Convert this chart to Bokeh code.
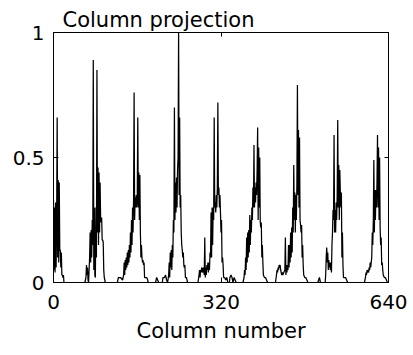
from bokeh.plotting import figure
from bokeh.models import Range1d, LinearAxis, FixedTicker, CustomLabelingPolicy
from bokeh.embed import file_html
from bokeh.resources import INLINE

# ---- data (column index, normalised projection) ----
g1_cols = [0, 1, 2, 3, 4, 5, 6, 7, 8, 9, 10, 11, 12, 13, 14, 15, 16, 17, 18, 19, 20, 21]
g1_vals = [0.33, 0.05, 0.30, 0.04, 0.32, 0.06, 0.25, 0.66, 0.10, 0.41, 0.08, 0.40, 0.13, 0.13, 0.06, 0.12, 0.03, 0.03, 0.02, 0.03, 0.0, 0.0]

g2_cols = [60, 62, 63, 64, 65, 66, 67, 68, 69, 70, 71, 72, 73, 74, 75, 76, 77, 78, 79, 80, 81, 82, 83, 84, 85, 86, 87, 88, 89, 90, 91, 92, 93, 94, 95, 96, 97, 98, 99]
g2_vals = [0.0, 0.02, 0.07, 0.03, 0.06, 0.01, 0.0, 0.05, 0.10, 0.20, 0.08, 0.21, 0.10, 0.25, 0.15, 0.89, 0.05, 0.30, 0.03, 0.02, 0.30, 0.10, 0.85, 0.20, 0.46, 0.15, 0.44, 0.20, 0.40, 0.26, 0.24, 0.26, 0.17, 0.17, 0.16, 0.05, 0.02, 0.01, 0.0]

g3_cols = [122, 124, 128, 132, 134, 135, 136, 137, 138, 139, 140, 141, 142, 143, 144, 145, 146, 147, 148, 149, 150, 151, 152, 153, 154, 155, 156, 157, 158, 159, 160, 161, 162, 163, 164, 165, 166, 167, 168, 169, 170, 171, 172, 173, 174, 176, 178, 180, 181]
g3_vals = [0.0, 0.02, 0.02, 0.01, 0.03, 0.08, 0.03, 0.09, 0.05, 0.10, 0.06, 0.12, 0.07, 0.13, 0.08, 0.15, 0.10, 0.20, 0.12, 0.25, 0.15, 0.30, 0.20, 0.34, 0.76, 0.25, 0.34, 0.30, 0.35, 0.30, 0.33, 0.66, 0.30, 0.44, 0.25, 0.43, 0.20, 0.10, 0.15, 0.10, 0.08, 0.09, 0.07, 0.08, 0.02, 0.02, 0.02, 0.01, 0.0]

g4_cols = [195, 197, 199, 201, 208, 209, 212, 214, 216, 218, 220, 221, 222, 223, 224, 225, 226, 227, 228, 229, 230, 231, 232, 233, 234, 235, 236, 237, 238, 239, 240, 241, 242, 243, 244, 245, 246, 247, 248, 249, 250, 251, 252, 254, 256]
g4_vals = [0.0, 0.02, 0.01, 0.0, 0.0, 0.02, 0.02, 0.03, 0.01, 0.0, 0.03, 0.08, 0.02, 0.12, 0.06, 0.13, 0.05, 0.15, 0.10, 0.25, 0.20, 0.70, 0.25, 0.40, 0.28, 0.42, 0.30, 0.45, 0.50, 1.00, 0.35, 0.66, 0.30, 0.35, 0.20, 0.15, 0.13, 0.10, 0.12, 0.07, 0.06, 0.07, 0.02, 0.02, 0.0]

g5_cols = [276, 278, 279, 280, 281, 282, 283, 284, 285, 286, 287, 288, 289, 290, 291, 292, 293, 294, 295, 296, 297, 298, 299, 300, 301, 302, 303, 304, 305, 306, 307, 308, 309, 310, 311, 312, 313, 314, 315, 316, 317, 318, 319, 320, 321, 322, 323, 324, 325, 327, 329, 331, 333]
g5_vals = [0.0, 0.03, 0.05, 0.02, 0.05, 0.04, 0.06, 0.05, 0.04, 0.06, 0.05, 0.03, 0.18, 0.02, 0.06, 0.03, 0.07, 0.05, 0.08, 0.04, 0.08, 0.05, 0.12, 0.10, 0.28, 0.10, 0.30, 0.15, 0.30, 0.25, 0.66, 0.30, 0.32, 0.28, 0.35, 0.30, 0.38, 0.72, 0.35, 0.38, 0.30, 0.35, 0.28, 0.20, 0.25, 0.08, 0.10, 0.07, 0.02, 0.02, 0.01, 0.02, 0.0]

g6_cols = [336, 337, 339, 341, 343, 345, 347, 349, 362, 364, 365, 366, 367, 368, 369, 370, 371, 372, 373, 374, 375, 376, 377, 378, 379, 380, 381, 382, 383, 384, 385, 386, 387, 388, 389, 390, 391, 392, 393, 394, 395, 396, 397, 398, 399, 400, 401, 403, 405, 407, 409]
g6_vals = [0.0, 0.02, 0.03, 0.02, 0.0, 0.02, 0.01, 0.0, 0.0, 0.02, 0.05, 0.03, 0.10, 0.05, 0.18, 0.08, 0.20, 0.10, 0.21, 0.12, 0.27, 0.15, 0.25, 0.20, 0.30, 0.25, 0.38, 0.30, 0.55, 0.30, 0.38, 0.32, 0.40, 0.35, 0.45, 0.62, 0.25, 0.54, 0.30, 0.50, 0.24, 0.22, 0.24, 0.10, 0.15, 0.08, 0.03, 0.02, 0.02, 0.01, 0.0]

g7_cols = [424, 426, 427, 428, 429, 430, 431, 432, 433, 434, 435, 436, 437, 438, 440, 442, 443, 444, 445, 446, 447, 448, 449, 450, 451, 452, 453, 454, 455, 456, 457, 458, 459, 460, 461, 462, 463, 464, 465, 466, 467, 468, 469, 470, 471, 472, 473, 474, 475, 476, 477, 478, 480, 482, 484, 486]
g7_vals = [0.0, 0.03, 0.05, 0.04, 0.06, 0.05, 0.07, 0.06, 0.07, 0.05, 0.04, 0.03, 0.04, 0.03, 0.04, 0.05, 0.18, 0.03, 0.07, 0.04, 0.07, 0.05, 0.15, 0.06, 0.15, 0.08, 0.20, 0.10, 0.22, 0.12, 0.30, 0.20, 0.47, 0.25, 0.36, 0.20, 0.35, 0.25, 0.40, 0.79, 0.35, 0.61, 0.30, 0.58, 0.25, 0.23, 0.20, 0.23, 0.10, 0.15, 0.07, 0.03, 0.02, 0.02, 0.01, 0.0]

g8_cols = [505, 508, 510, 519, 520, 521, 522, 523, 524, 525, 526, 527, 528, 529, 530, 531, 532, 533, 534, 535, 536, 537, 538, 539, 540, 541, 542, 543, 544, 545, 546, 547, 548, 549, 550, 551, 552, 553, 554, 556, 558, 560, 562]
g8_vals = [0.0, 0.02, 0.0, 0.0, 0.03, 0.10, 0.14, 0.08, 0.12, 0.05, 0.09, 0.06, 0.08, 0.05, 0.08, 0.04, 0.15, 0.20, 0.29, 0.25, 0.59, 0.20, 0.29, 0.20, 0.32, 0.25, 0.35, 0.65, 0.30, 0.47, 0.25, 0.45, 0.36, 0.30, 0.36, 0.10, 0.20, 0.07, 0.02, 0.02, 0.02, 0.01, 0.0]

g9_cols = [594, 596, 597, 598, 599, 600, 601, 602, 603, 604, 605, 606, 607, 608, 609, 610, 611, 612, 613, 614, 615, 616, 617, 618, 619, 620, 621, 622, 623, 624, 625, 626, 627, 628, 629, 630, 632, 634, 636, 638, 640]
g9_vals = [0.0, 0.02, 0.04, 0.03, 0.05, 0.04, 0.05, 0.04, 0.06, 0.05, 0.08, 0.06, 0.08, 0.10, 0.20, 0.15, 0.25, 0.49, 0.20, 0.37, 0.25, 0.37, 0.30, 0.40, 0.59, 0.30, 0.54, 0.25, 0.50, 0.22, 0.15, 0.18, 0.07, 0.08, 0.05, 0.03, 0.02, 0.02, 0.01, 0.0, 0.0]

x_ticks = [0, 320, 640]
y_ticks = [0, 0.5, 1]
y_tick_labels = {0: "0", 0.5: "0.5", 1: "1"}

columns = (g1_cols + g2_cols + g3_cols + g4_cols + g5_cols + g6_cols + g7_cols + g8_cols + g9_cols)
projection = (g1_vals + g2_vals + g3_vals + g4_vals + g5_vals + g6_vals + g7_vals + g8_vals + g9_vals)

FONT = "DejaVu Sans"
FS = "20px"
FS_BIG = "21px"

p = figure(width=413, height=355, x_range=Range1d(0, 640), y_range=Range1d(0, 1),
           output_backend="svg", toolbar_location=None,
           min_border_left=53, min_border_right=25, min_border_top=32, min_border_bottom=73,
           title="Column projection")

p.line(columns, projection, line_color="black", line_width=1.25)

p.grid.visible = False
p.background_fill_color = "white"
p.border_fill_color = "white"
p.outline_line_color = "black"
p.outline_line_width = 1

p.title.text_font = FONT
p.title.text_font_size = FS_BIG
p.title.text_font_style = "normal"
p.title.text_color = "black"
p.title.align = "left"
p.title.offset = 9
p.title.standoff = 2

for ax in (p.xaxis[0], p.yaxis[0]):
    ax.major_tick_in = 5
    ax.major_tick_out = 0
    ax.minor_tick_line_color = None
    ax.major_label_text_font = FONT
    ax.major_label_text_font_size = FS
    ax.major_label_text_color = "black"
    ax.axis_line_color = "black"
    ax.major_tick_line_color = "black"

p.xaxis[0].ticker = FixedTicker(ticks=x_ticks)
p.yaxis[0].ticker = FixedTicker(ticks=y_ticks)
p.yaxis[0].major_label_overrides = y_tick_labels
p.xaxis[0].major_label_standoff = 12
p.yaxis[0].major_label_standoff = 9
p.xaxis[0].axis_label = "Column number"
p.xaxis[0].axis_label_text_font = FONT
p.xaxis[0].axis_label_text_font_size = FS_BIG
p.xaxis[0].axis_label_text_font_style = "normal"
p.xaxis[0].axis_label_text_color = "black"
p.xaxis[0].axis_label_standoff = 7

no_labels = "return []"
top_ax = LinearAxis(ticker=FixedTicker(ticks=x_ticks), major_label_text_font_size="0px",
                    major_label_policy=CustomLabelingPolicy(code=no_labels),
                    major_tick_in=4, major_tick_out=0, minor_tick_line_color=None,
                    major_label_standoff=0, axis_line_color="black")
right_ax = LinearAxis(ticker=FixedTicker(ticks=y_ticks), major_label_text_font_size="0px",
                      major_label_policy=CustomLabelingPolicy(code=no_labels),
                      major_tick_in=4, major_tick_out=0, minor_tick_line_color=None,
                      major_label_standoff=0, axis_line_color="black")
p.add_layout(top_ax, "above")
p.add_layout(right_ax, "right")

open("out.html", "w").write(file_html(p, INLINE))
